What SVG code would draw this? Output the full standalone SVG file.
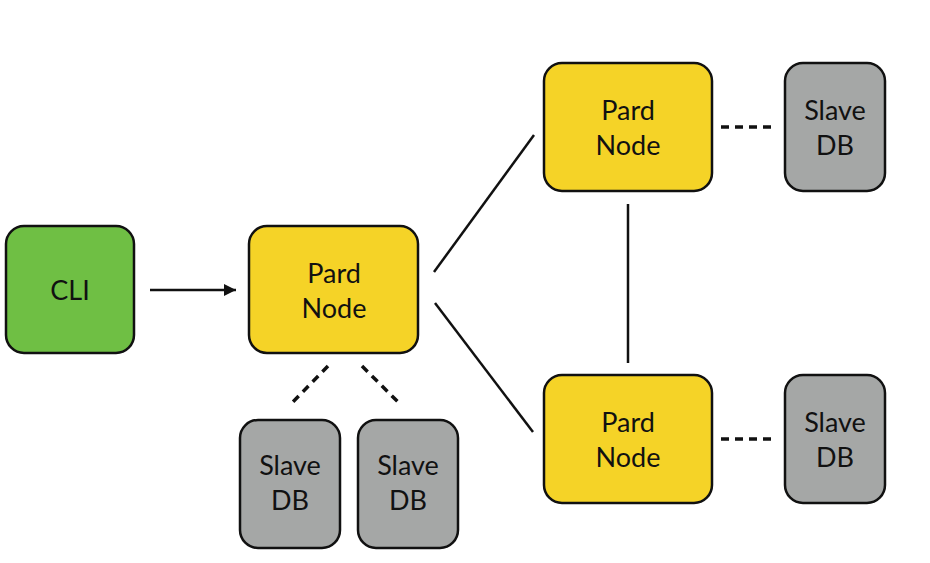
<svg xmlns="http://www.w3.org/2000/svg" width="930" height="563" viewBox="0 0 930 563">
<style>
.box{stroke:#111;stroke-width:2.5}
.cli{fill:#6fbf44}
.pard{fill:#f5d327}
.slave{fill:#a5a7a6}
text{font-family:"Lato","Open Sans",sans-serif;font-size:27px;fill:#111;text-anchor:middle}
.ln{stroke:#111;stroke-width:2.5;fill:none}
.dash{stroke-width:3.5;stroke-dasharray:8 6}
</style>
<defs>
<marker id="ah" viewBox="0 0 10 10" refX="10" refY="5" markerWidth="5" markerHeight="5" orient="auto" markerUnits="strokeWidth">
<path d="M0,0 L10,5 L0,10 z" fill="#111"/>
</marker>
</defs>
<rect width="930" height="563" fill="#fff"/>
<g id="connectors">
<line class="ln" x1="150" y1="290" x2="236" y2="290" marker-end="url(#ah)"/>
<line class="ln" x1="434" y1="272" x2="534" y2="135"/>
<line class="ln" x1="435" y1="303" x2="533" y2="432"/>
<line class="ln" x1="628" y1="204" x2="628" y2="363"/>
<line class="ln dash" x1="328" y1="366" x2="290" y2="405"/>
<line class="ln dash" x1="362" y1="366" x2="401" y2="405"/>
<line class="ln dash" x1="721" y1="127" x2="776" y2="127"/>
<line class="ln dash" x1="721" y1="439" x2="776" y2="439"/>
</g>
<g id="cli">
<rect class="box cli" x="6" y="226" width="128" height="127" rx="18"/>
<text x="70" y="300">CLI</text>
</g>
<g id="pard1">
<rect class="box pard" x="249" y="226" width="169" height="127" rx="18"/>
<text x="334" y="283">Pard</text>
<text x="334" y="318">Node</text>
</g>
<g id="pard2">
<rect class="box pard" x="544" y="63" width="168" height="128" rx="18"/>
<text x="628" y="120">Pard</text>
<text x="628" y="155">Node</text>
</g>
<g id="pard3">
<rect class="box pard" x="544" y="375" width="168" height="128" rx="18"/>
<text x="628" y="432">Pard</text>
<text x="628" y="467">Node</text>
</g>
<g id="slave1">
<rect class="box slave" x="240" y="420" width="100" height="128" rx="18"/>
<text x="290" y="475">Slave</text>
<text x="290" y="510">DB</text>
</g>
<g id="slave2">
<rect class="box slave" x="358" y="420" width="100" height="128" rx="18"/>
<text x="408" y="475">Slave</text>
<text x="408" y="510">DB</text>
</g>
<g id="slave3">
<rect class="box slave" x="785" y="63" width="100" height="128" rx="18"/>
<text x="835" y="120">Slave</text>
<text x="835" y="155">DB</text>
</g>
<g id="slave4">
<rect class="box slave" x="785" y="375" width="100" height="128" rx="18"/>
<text x="835" y="432">Slave</text>
<text x="835" y="467">DB</text>
</g>
</svg>
